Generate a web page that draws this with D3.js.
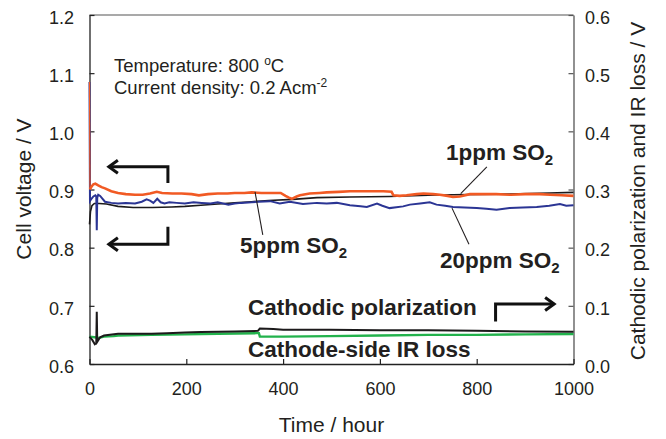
<!DOCTYPE html>
<html>
<head>
<meta charset="utf-8">
<script src="https://cdn.jsdelivr.net/npm/d3@7"></script>
<style>
  body { margin: 0; background: #fff; }
  svg { display: block; font-family: "Liberation Sans", Arial, sans-serif; }
  .tick text { fill: #231f20; font-size: 18px; }
</style>
</head>
<body>
<div id="chart"></div>
<script>
// 1ppm SO2 (cell voltage, left axis)
const so2_1T = [0, 1, 4, 8, 12, 18, 25, 32, 45, 59, 75, 94, 110, 125, 139, 150, 171, 190, 211, 226, 245, 265, 285, 300, 320, 335, 355, 375, 395, 405, 412, 418, 428, 435, 455, 475, 490, 515, 538, 560, 585, 607, 624, 628, 641, 655, 676, 690, 710, 724, 740, 751, 765, 786, 810, 840, 870, 900, 930, 952, 975, 1000];
const so2_1V = [1.085, 0.900, 0.905, 0.909, 0.910, 0.907, 0.904, 0.902, 0.897, 0.894, 0.892, 0.891, 0.891, 0.893, 0.896, 0.894, 0.893, 0.893, 0.892, 0.890, 0.892, 0.893, 0.893, 0.894, 0.894, 0.895, 0.894, 0.894, 0.894, 0.889, 0.886, 0.884, 0.888, 0.890, 0.893, 0.894, 0.895, 0.896, 0.897, 0.897, 0.897, 0.897, 0.896, 0.890, 0.889, 0.890, 0.892, 0.893, 0.892, 0.891, 0.889, 0.887, 0.888, 0.892, 0.892, 0.892, 0.891, 0.892, 0.892, 0.891, 0.890, 0.889];

// 20ppm SO2
const so2_20T = [0, 1, 4, 8, 12, 14, 15, 16, 18, 22, 32, 45, 59, 75, 94, 108, 118, 125, 132, 140, 147, 155, 165, 180, 197, 215, 232, 250, 265, 287, 300, 314, 335, 350, 373, 393, 414, 441, 470, 490, 511, 538, 560, 573, 594, 605, 620, 648, 662, 683, 703, 717, 735, 751, 775, 800, 820, 841, 868, 895, 924, 950, 972, 985, 1000];
const so2_20V = [1.085, 0.880, 0.884, 0.888, 0.890, 0.888, 0.830, 0.886, 0.891, 0.889, 0.879, 0.877, 0.876, 0.877, 0.876, 0.879, 0.883, 0.881, 0.877, 0.884, 0.878, 0.876, 0.878, 0.877, 0.876, 0.878, 0.877, 0.876, 0.878, 0.874, 0.876, 0.877, 0.878, 0.879, 0.880, 0.876, 0.879, 0.875, 0.877, 0.876, 0.877, 0.873, 0.871, 0.870, 0.876, 0.872, 0.868, 0.871, 0.874, 0.876, 0.878, 0.874, 0.872, 0.870, 0.869, 0.868, 0.867, 0.865, 0.868, 0.869, 0.870, 0.872, 0.875, 0.872, 0.873];

// 5ppm SO2
const so2_5T = [0, 2, 5, 10, 20, 35, 59, 90, 130, 170, 197, 230, 265, 300, 335, 370, 420, 470, 538, 620, 700, 751, 850, 950, 1000];
const so2_5V = [0.840, 0.862, 0.872, 0.876, 0.876, 0.875, 0.871, 0.869, 0.869, 0.870, 0.871, 0.873, 0.875, 0.877, 0.879, 0.881, 0.883, 0.886, 0.887, 0.888, 0.890, 0.891, 0.892, 0.894, 0.895];

// cathodic polarization (right axis)
const polT = [0, 3, 6, 11, 14, 15, 16, 22, 30, 38, 59, 90, 128, 160, 197, 230, 266, 300, 348, 352, 380, 400, 496, 600, 700, 800, 900, 1000];
const polV = [0.047, 0.044, 0.041, 0.034, 0.036, 0.090, 0.038, 0.046, 0.049, 0.050, 0.052, 0.052, 0.052, 0.053, 0.054, 0.055, 0.0555, 0.056, 0.057, 0.061, 0.060, 0.059, 0.059, 0.058, 0.058, 0.057, 0.056, 0.0555];

// cathode-side IR loss (right axis)
const irT = [0, 10, 20, 30, 50, 59, 128, 197, 266, 345, 350, 352, 400, 496, 600, 700, 800, 900, 1000];
const irV = [0.047, 0.046, 0.045, 0.047, 0.048, 0.049, 0.050, 0.051, 0.052, 0.053, 0.053, 0.047, 0.047, 0.048, 0.049, 0.050, 0.050, 0.051, 0.0516];

const xTicks = [0, 200, 400, 600, 800, 1000];
const leftTicks = [0.6, 0.7, 0.8, 0.9, 1.0, 1.1, 1.2];
const rightTicks = [0, 0.1, 0.2, 0.3, 0.4, 0.5, 0.6];

const width = 666;
const height = 439;
const margin = { top: 15, right: 92.5, bottom: 75, left: 89.5 };
const ink = "#231f20";

const x = d3.scaleLinear().domain([0, 1000]).range([margin.left, width - margin.right]);
const yL = d3.scaleLinear().domain([0.6, 1.2]).range([height - margin.bottom, margin.top]);
const yR = d3.scaleLinear().domain([0, 0.6]).range([height - margin.bottom, margin.top]);

const svg = d3.select("#chart").append("svg")
  .attr("width", width)
  .attr("height", height);

// top frame line
svg.append("line")
  .attr("x1", x(0)).attr("x2", x(1000))
  .attr("y1", yL(1.2)).attr("y2", yL(1.2))
  .attr("stroke", "#555").attr("stroke-width", 1.2);

// axes
const fmt = d3.format(".1f");
const leftAxis = svg.append("g")
  .attr("transform", `translate(${margin.left},0)`)
  .call(d3.axisLeft(yL).tickValues(leftTicks).tickFormat(fmt).tickSizeInner(-5).tickSizeOuter(0).tickPadding(15.5));
const rightAxis = svg.append("g")
  .attr("transform", `translate(${width - margin.right},0)`)
  .call(d3.axisRight(yR).tickValues(rightTicks).tickFormat(fmt).tickSizeInner(-5).tickSizeOuter(0).tickPadding(11.5));
const bottomAxis = svg.append("g")
  .attr("transform", `translate(0,${height - margin.bottom})`)
  .call(d3.axisBottom(x).tickValues(xTicks).tickFormat(d3.format("d")).tickSizeInner(-5).tickSizeOuter(0).tickPadding(18));

[leftAxis, bottomAxis].forEach((a) => {
  a.select(".domain").attr("stroke", "#222").attr("stroke-width", 1.3);
  a.selectAll(".tick line").attr("stroke", "#222").attr("stroke-width", 1.2);
});
rightAxis.select(".domain").attr("stroke", "#555").attr("stroke-width", 1.3);
rightAxis.selectAll(".tick line").attr("stroke", "#555").attr("stroke-width", 1.2);
leftAxis.selectAll(".tick text").attr("dy", "0.46em");
rightAxis.selectAll(".tick text").attr("dy", "0.46em");
svg.selectAll("g").attr("font-family", null).attr("font-size", null);

// series
const lineL = d3.line().x((d) => x(d[0])).y((d) => yL(d[1]));
const lineR = d3.line().x((d) => x(d[0])).y((d) => yR(d[1]));
const zip = (t, v) => t.map((d, i) => [d, v[i]]);

svg.append("path").datum(zip(irT, irV))
  .attr("fill", "none").attr("stroke", "#22b24c").attr("stroke-width", 2.4).attr("d", lineR);
svg.append("path").datum(zip(polT, polV))
  .attr("fill", "none").attr("stroke", "#1c1a1b").attr("stroke-width", 2).attr("d", lineR);
svg.append("path").datum(zip(so2_5T, so2_5V))
  .attr("fill", "none").attr("stroke", "#1c1a1b").attr("stroke-width", 1.6).attr("d", lineL);
svg.append("path").datum(zip(so2_20T, so2_20V))
  .attr("fill", "none").attr("stroke", "#2b3594").attr("stroke-width", 2).attr("d", lineL);
svg.append("path").datum(zip(so2_1T.slice(1), so2_1V.slice(1)))
  .attr("fill", "none").attr("stroke", "#f15a24").attr("stroke-width", 2.6).attr("d", lineL);
// thin start-up transient
svg.append("path").datum(zip(so2_1T.slice(0, 2), so2_1V.slice(0, 2)))
  .attr("fill", "none").attr("stroke", "#f15a24").attr("stroke-width", 1.2).attr("d", lineL);

// leader lines
const leaders = [
  [[767, 0.893], [821, 0.939]],
  [[342, 0.896], [358, 0.822]],
  [[749, 0.868], [784, 0.806]]
];
leaders.forEach((p) => {
  svg.append("line")
    .attr("x1", x(p[0][0])).attr("y1", yL(p[0][1]))
    .attr("x2", x(p[1][0])).attr("y2", yL(p[1][1]))
    .attr("stroke", ink).attr("stroke-width", 1.1);
});

// arrows
function arrow(x0, y0, x1, y1, x2) {
  const dir = x2 < x1 ? 1 : -1;
  svg.append("path")
    .attr("d", `M${x0},${y0}V${y1}H${x2}`)
    .attr("fill", "none").attr("stroke", "#111").attr("stroke-width", 3);
  svg.append("path")
    .attr("d", `M${x2 + dir * 9},${y1 - 6.5}L${x2},${y1}L${x2 + dir * 9},${y1 + 6.5}`)
    .attr("fill", "none").attr("stroke", "#111").attr("stroke-width", 3)
    .attr("stroke-linejoin", "miter");
}
arrow(x(162), yL(0.911), x(162), yL(0.939), x(40));
arrow(x(162), yL(0.836), x(162), yL(0.806), x(40));
arrow(x(839), yR(0.073), x(839), yR(0.103), x(960));

// condition text
const cond1 = svg.append("text").attr("x", 114).attr("y", 71.5)
  .attr("fill", ink).attr("font-size", 18.5);
cond1.append("tspan").text("Temperature: 800 ");
cond1.append("tspan").attr("font-size", 12).attr("dy", -7).text("o");
cond1.append("tspan").attr("dy", 7).text("C");

const cond2 = svg.append("text").attr("x", 114).attr("y", 94.3)
  .attr("fill", ink).attr("font-size", 18.5);
cond2.append("tspan").text("Current density: 0.2 Acm");
cond2.append("tspan").attr("font-size", 12).attr("dy", -7).text("-2");

// series labels
function so2Label(xp, yp, prefix) {
  const t = svg.append("text").attr("x", xp).attr("y", yp)
    .attr("fill", ink).attr("font-size", 22.5).attr("font-weight", "bold");
  t.append("tspan").text(prefix + " SO");
  t.append("tspan").attr("font-size", 15).attr("dy", 5).text("2");
}
so2Label(446, 160, "1ppm");
so2Label(240, 253, "5ppm");
so2Label(440, 268, "20ppm");

svg.append("text").attr("x", 248).attr("y", 315)
  .attr("fill", ink).attr("font-size", 22.5).attr("font-weight", "bold")
  .text("Cathodic polarization");
svg.append("text").attr("x", 248).attr("y", 357)
  .attr("fill", ink).attr("font-size", 22.5).attr("font-weight", "bold")
  .text("Cathode-side IR loss");

// axis titles
svg.append("text")
  .attr("x", (x(0) + x(1000)) / 2).attr("y", 432)
  .attr("text-anchor", "middle").attr("fill", ink).attr("font-size", 21)
  .text("Time / hour");
svg.append("text")
  .attr("transform", "translate(31,189) rotate(-90)")
  .attr("text-anchor", "middle").attr("fill", ink).attr("font-size", 21)
  .text("Cell voltage / V");
svg.append("text")
  .attr("transform", "translate(645,191) rotate(-90)")
  .attr("text-anchor", "middle").attr("fill", ink).attr("font-size", 21)
  .text("Cathodic polarization and IR loss / V");
</script>
</body>
</html>
